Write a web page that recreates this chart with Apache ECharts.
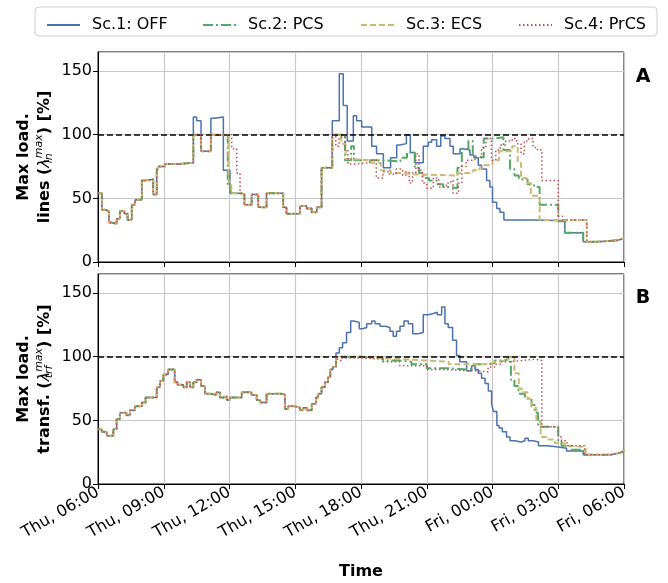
<!DOCTYPE html>
<html>
<head>
<meta charset="utf-8">
<script src="https://cdn.jsdelivr.net/npm/echarts@6/dist/echarts.min.js"></script>
<style>
  html, body { margin: 0; padding: 0; background: #fff; }
  #chart { width: 668px; height: 583px; }
</style>
</head>
<body>
<div id="chart"></div>
<script>
// ---------- DATA (x = hours after Thu 06:00, y = max loading in %) ----------
const seriesNames = ['Sc.1: OFF', 'Sc.2: PCS', 'Sc.3: ECS', 'Sc.4: PrCS'];
const hourTickLabels = ['Thu, 06:00', 'Thu, 09:00', 'Thu, 12:00', 'Thu, 15:00', 'Thu, 18:00',
                        'Thu, 21:00', 'Fri, 00:00', 'Fri, 03:00', 'Fri, 06:00'];

// Panel A: lines
const linesMorning = [[0,54],[0.18,41],[0.33,40],[0.5,31],[0.62,30],[0.85,34],[1.0,40],[1.2,38],[1.35,33],
  [1.54,45],[1.69,49],[2.0,64],[2.17,65],[2.52,53],[2.68,72],[2.76,75],[3.06,77],[3.7,78]];
const linesNoonOFF  = [[4.35,114],[4.5,111],[4.7,87],[5.15,113],[5.33,114],[5.72,72],[6.02,54]];
const linesNoonPCS  = [[4.35,100],[4.7,87],[5.15,100],[5.92,60],[6.05,54]];
const linesNoonECS  = [[4.35,100],[4.7,87],[5.15,100],[5.95,63],[6.08,54]];
const linesNoonPrCS = [[4.35,100],[4.7,87],[5.15,100],[6.1,89],[6.33,70],[6.48,54]];
const linesAfternoon = [[6.55,53],[6.68,45],[7.01,53],[7.31,43],[7.69,54],[8.45,43],[8.6,38],[9.22,44],
  [9.52,42],[9.75,39],[9.98,43],[10.2,74]];
const linesEveOFF = [[10.69,111],[11.01,148],[11.19,123],[11.37,95],[11.65,115],[11.8,111],[12.03,106],
  [12.49,91],[12.71,85],[13.02,74],[13.35,82],[13.63,92],[13.77,93],[14.07,100],[14.25,86],[14.46,78],
  [14.84,91],[15.07,94],[15.22,96],[15.45,91],[15.64,99],[15.83,97],[16.06,91],[16.21,85],[16.52,89],
  [16.67,88],[16.97,84],[17.15,82],[17.35,76],[17.5,73],[17.73,64],[17.88,59],[18.0,47],[18.19,42],
  [18.34,39],[18.52,33],[20.0,32.5],[21.3,23],[22.14,16]];
const linesEvePCS = [[10.69,100],[11.27,80],[11.55,91],[11.68,80],[12.9,79],[13.8,82],[14.1,86],[14.45,74],
  [14.65,70],[14.85,66],[15.1,64],[15.45,61],[15.75,59],[16.1,58],[16.4,74],[16.6,89],[16.9,95],[17.1,83],
  [17.3,82],[17.6,97],[18.1,98],[18.5,88],[18.8,73],[19.0,68],[19.2,65],[19.6,61],[19.9,59],[20.15,45],
  [21.0,32],[21.3,23],[22.14,16]];
const linesEveECS = [[10.69,100],[11.1,93],[11.3,81],[11.4,80],[12.4,78],[12.9,72],[13.35,70],[13.9,69],
  [14.3,68],[16.4,70],[17.1,72],[17.4,74],[17.6,76],[18.0,80],[18.3,87],[18.9,91],[19.15,78],[19.3,66],
  [19.55,62],[19.75,52],[20.15,33],[22.3,16]];
const linesEvePrCS = [[10.69,100],[10.85,91],[11.0,98],[11.27,88],[11.4,77],[11.7,78],[12.4,80],[12.7,66],
  [13.0,71],[13.3,69],[13.6,73],[13.9,68],[14.05,71],[14.2,62],[14.35,70],[14.5,85],[14.65,72],[14.8,62],
  [15.0,58],[15.3,66],[15.55,59],[15.9,62],[16.1,64],[16.2,54],[16.45,62],[16.6,75],[16.8,80],[17.2,82],
  [17.5,90],[17.7,97],[17.95,80],[18.15,88],[18.35,92],[18.6,95],[18.9,97],[19.1,93],[19.3,85],[19.45,95],
  [19.65,97],[19.85,90],[20.05,88],[20.25,64],[21.0,36],[21.2,33],[22.3,16]];
const linesNight = [[22.8,16.5],[23.3,17],[23.7,18],[23.9,19],[24,19]];

// Panel B: transformers
const trfMorning = [[0,43],[0.17,41],[0.4,38],[0.7,43],[0.85,51],[1.0,56],[1.3,54],[1.46,58],[1.69,61],
  [2.0,64],[2.17,68],[2.68,76],[2.83,81],[2.98,86],[3.2,90],[3.5,80],[3.63,78],[3.9,76],[4.05,80],[4.2,76],
  [4.35,80],[4.5,82],[4.7,77],[4.88,71],[5.1,70],[5.41,72],[5.56,68],[5.72,69],[5.87,66],[6.02,68],
  [6.56,72],[7.0,70],[7.24,66],[7.39,64],[7.69,71],[8.38,70],[8.53,59],[8.68,61],[8.99,60],[9.21,58],
  [9.37,60],[9.52,58],[9.75,63],[9.95,68],[10.05,71],[10.2,76],[10.35,80],[10.5,84],[10.6,90],[10.72,92]];
const trfEveOFF = [[10.86,103],[11.01,107],[11.16,111],[11.34,119],[11.53,128],[11.68,127],[11.92,122],
  [12.07,123],[12.26,126],[12.49,128],[12.64,126],[12.87,124],[13.1,123],[13.32,120],[13.47,116],[13.62,120],
  [13.78,124],[13.96,128],[14.16,126],[14.36,118],[14.61,119],[14.84,133],[15.07,134],[15.3,135],[15.48,133],
  [15.68,139],[15.83,126],[15.98,123],[16.18,113],[16.36,101],[16.51,96],[16.82,89],[17.05,93],[17.2,90],
  [17.35,87],[17.5,83],[17.66,79],[17.81,73],[17.96,63],[18.04,57],[18.2,46],[18.3,44],[18.45,41],[18.64,37],
  [18.8,34],[19.02,33],[19.3,34],[19.48,36],[19.63,34],[19.85,33],[20.1,30],[20.5,29],[21.0,28],[21.38,26],
  [22.14,23]];
const trfEvePCS = [[10.86,100],[12.0,99],[13.0,97],[13.77,96],[14.3,94],[15.0,91],[15.9,90],[16.8,91],
  [17.2,94],[17.8,95],[18.1,97],[18.5,98],[18.73,100],[18.84,82],[19.0,77],[19.18,71],[19.48,67],[19.78,62],
  [19.93,56],[20.08,45],[21.0,34],[21.15,30],[21.55,27],[22.15,23]];
const trfEveECS = [[10.86,100],[12.0,99],[13.0,98],[14.0,97],[15.0,96],[16.0,94],[17.0,94],[17.5,95],
  [17.96,96],[18.2,97],[18.7,100],[19.0,87],[19.2,75],[19.33,72],[19.6,67],[19.78,60],[20.0,49],[20.2,37],
  [20.5,35],[20.85,32],[21.3,30],[21.6,29],[22.25,23]];
const trfEvePrCS = [[10.86,100],[10.95,97],[11.1,99],[12.0,98],[13.0,96],[13.77,93],[15.0,90],[15.9,89],
  [16.8,89],[17.3,88],[17.8,92],[18.1,94],[18.4,96],[18.73,97],[19.33,98],[19.93,97],[20.25,45],[21.0,37],
  [21.15,34],[21.4,30],[22.2,23]];
const trfNight = [[23.0,23],[23.4,24],[23.7,25],[23.9,26],[24,27]];

// ---------- assemble ----------
const lineData = [
  [...linesMorning, ...linesNoonOFF,  ...linesAfternoon, ...linesEveOFF,  ...linesNight],
  [...linesMorning, ...linesNoonPCS,  ...linesAfternoon, ...linesEvePCS,  ...linesNight],
  [...linesMorning, ...linesNoonECS,  ...linesAfternoon, ...linesEveECS,  ...linesNight],
  [...linesMorning, ...linesNoonPrCS, ...linesAfternoon, ...linesEvePrCS, ...linesNight]
];
const trfData = [
  [...trfMorning, ...trfEveOFF,  ...trfNight],
  [...trfMorning, ...trfEvePCS,  ...trfNight],
  [...trfMorning, ...trfEveECS,  ...trfNight],
  [...trfMorning, ...trfEvePrCS, ...trfNight]
];

const FONT = 'DejaVu Sans';
const colors = ['#4C72B0', '#55A868', '#CCB974', '#C44E52'];
const dashes = ['solid', [10, 3, 2, 3], [6, 3], [1.5, 2.5]];
const widths = [1.5, 2, 2, 1.5];

const chart = echarts.init(document.getElementById('chart'), null, { renderer: 'canvas' });

const grids = [
  { left: 98, top: 52, width: 526, height: 210 },
  { left: 98, top: 274, width: 526, height: 210 }
];

function xAx(i) {
  return {
    type: 'value', gridIndex: i, min: 0, max: 24, interval: 3,
    axisLine: { show: true, onZero: false, lineStyle: { color: '#000', width: 1 } },
    axisTick: { show: true, length: 5, lineStyle: { color: '#000', width: 1 } },
    axisLabel: {
      show: i === 1, rotate: 30, margin: 7, fontSize: 16, color: '#000', fontFamily: FONT,
      formatter: v => hourTickLabels[Math.round(v / 3)]
    },
    splitLine: { show: true, lineStyle: { color: '#c8c8c8', width: 1.2 } }
  };
}
function yAx(i) {
  return {
    type: 'value', gridIndex: i, min: 0, max: 165, interval: 50,
    axisLine: { show: true, lineStyle: { color: '#000', width: 1 } },
    axisTick: { show: true, length: 5, lineStyle: { color: '#000', width: 1 } },
    axisLabel: { showMaxLabel: false, fontSize: 16, color: '#000', fontFamily: FONT, margin: 6 },
    splitLine: { show: true, lineStyle: { color: '#c8c8c8', width: 1.2 } }
  };
}

const series = [];
[lineData, trfData].forEach((panel, p) => {
  panel.forEach((d, k) => {
    series.push({
      name: seriesNames[k], type: 'line', step: 'end', xAxisIndex: p, yAxisIndex: p,
      data: d, symbol: 'none', showSymbol: false, z: 2 + k,
      lineStyle: { color: colors[k], width: widths[k], type: dashes[k], cap: 'butt' },
      itemStyle: { color: colors[k] }
    });
  });
  series.push({
    type: 'line', xAxisIndex: p, yAxisIndex: p, data: [], z: 10,
    markLine: {
      silent: true, symbol: 'none', label: { show: false },
      lineStyle: { color: '#000', type: [6, 3], width: 1.5 },
      data: [{ yAxis: 100 }]
    }
  });
});

const legendLefts = [41, 197, 355, 513];
const legends = seriesNames.map((n, i) => ({
  data: [n], left: legendLefts[i], top: 12, itemWidth: 33, itemHeight: 14, itemGap: 0,
  itemStyle: { opacity: 0 },
  textStyle: { fontFamily: FONT, fontSize: 16, color: '#000', padding: [0, 0, 0, 7] }
}));

const richY = {
  b: { fontFamily: FONT, fontWeight: 'bold', fontSize: 16, lineHeight: 21, color: '#000' },
  l: { fontFamily: FONT, fontStyle: 'italic', fontSize: 16, lineHeight: 21, color: '#000' },
  sub: { fontFamily: FONT, fontStyle: 'italic', fontSize: 11, lineHeight: 12, verticalAlign: 'bottom', width: 0, color: '#000' },
  sup: { fontFamily: FONT, fontStyle: 'italic', fontSize: 11, lineHeight: 12, verticalAlign: 'top', color: '#000' }
};

chart.setOption({
  animation: false,
  backgroundColor: '#fff',
  textStyle: { fontFamily: FONT },
  grid: grids.map(g => Object.assign({ show: true, borderColor: '#000', borderWidth: 1, backgroundColor: 'transparent' }, g)),
  xAxis: [xAx(0), xAx(1)],
  yAxis: [yAx(0), yAx(1)],
  legend: legends,
  series: series,
  graphic: [
    { type: 'rect', shape: { x: 35, y: 7, width: 622, height: 29, r: 4 }, z: -1,
      style: { fill: '#fff', stroke: '#d0d0d0', lineWidth: 1 } },
    { type: 'text', x: 34, y: 157, rotation: Math.PI / 2,
      style: { text: '{b|Max load.}\n{b|lines (}{l|λ}{sub|ln}{sup|max}{b|) [%]}', rich: richY,
               align: 'center', verticalAlign: 'middle' } },
    { type: 'text', x: 34, y: 379, rotation: Math.PI / 2,
      style: { text: '{b|Max load.}\n{b|transf. (}{l|λ}{sub|trf}{sup|max}{b|) [%]}', rich: richY,
               align: 'center', verticalAlign: 'middle' } },
    { type: 'text', x: 361, y: 572,
      style: { text: 'Time', fontFamily: FONT, fontWeight: 'bold', fontSize: 16, fill: '#000',
               align: 'center', verticalAlign: 'middle' } },
    { type: 'text', x: 643, y: 77,
      style: { text: 'A', fontFamily: FONT, fontWeight: 'bold', fontSize: 19, fill: '#000',
               align: 'center', verticalAlign: 'middle' } },
    { type: 'text', x: 643, y: 298,
      style: { text: 'B', fontFamily: FONT, fontWeight: 'bold', fontSize: 19, fill: '#000',
               align: 'center', verticalAlign: 'middle' } }
  ]
});
</script>
</body>
</html>
